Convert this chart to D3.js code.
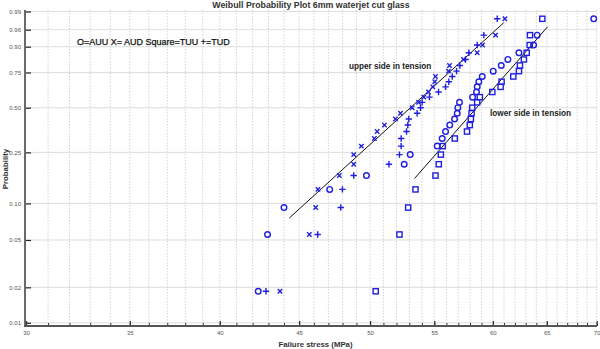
<!DOCTYPE html>
<html><head><meta charset="utf-8">
<script src="https://cdn.jsdelivr.net/npm/d3@7"></script>
<style>
html,body{margin:0;padding:0;background:#fff;}
svg{display:block;font-family:"Liberation Sans",Arial,sans-serif;}
</style></head>
<body><svg id="c" width="600" height="349"></svg>
<script>
// ---- data (stress in MPa, sorted; rank i plotted at p=(i-0.5)/n) ----
const AUU = [42.35,42.94,44.00,47.09,49.73,52.60,53.07,55.24,55.65,55.93,56.28,56.68,56.91,56.96,57.10,58.22,58.56,58.62,58.76,59.06,60.03,60.75,61.35,62.37,63.74,64.08,69.69];
const AUD = [43.74,45.69,46.12,46.28,47.77,48.80,48.80,49.36,50.32,50.53,51.08,51.92,52.31,53.23,53.73,54.15,54.53,54.88,55.04,55.10,56.18,56.26,57.44,58.62,59.09,60.24,61.08];
const TUU = [50.42,52.23,52.91,53.49,55.10,55.37,55.54,55.69,56.70,57.74,57.98,58.07,58.13,58.19,58.62,58.85,59.95,60.69,60.78,61.85,62.37,62.46,62.83,63.09,63.37,63.40,64.57];
const TUD = [42.84,46.26,47.87,47.99,48.80,51.42,52.23,52.36,52.36,52.78,52.88,52.96,53.62,53.89,54.02,54.61,55.35,55.93,56.20,56.49,56.85,57.13,57.61,57.90,58.62,59.20,60.39];
const upperFit = [[44.35,0.076],[60.97,0.975]];
const lowerFit = [[53.41,0.158],[65.08,0.967]];
const probTicks = [0.01,0.02,0.05,0.10,0.25,0.50,0.75,0.90,0.96,0.99];
const probLabels = ["0.01","0.02","0.05","0.10","0.25","0.50","0.75","0.90","0.96","0.99"];
const stressMajor = [30,35,40,45,50,55,60,65,70];
const stressMinor = d3.range(30,71);

(function(){
const svg = d3.select("#c");
const blue = "#1f1fdc";
const wz = p => Math.log(-Math.log(1-p));
const x = d3.scaleLog().domain([30,70]).range([26,596.7]);
const yz = d3.scaleLinear().domain([wz(0.01),wz(0.99)]).range([322.8,11.5]);
const y = p => yz(wz(p));
const pTop = 10, pBottom = 326, pLeft = 25, pRight = 597;

// grid
const g = svg.append("g");
g.selectAll("line.vg").data(stressMinor.filter(v=>v>30)).join("line")
  .attr("x1",d=>x(d)).attr("x2",d=>x(d)).attr("y1",pTop).attr("y2",pBottom)
  .attr("stroke","#c8c8c8").attr("stroke-width",0.8).attr("stroke-dasharray","1.5,1.5");
g.selectAll("line.hg").data(probTicks).join("line")
  .attr("x1",pLeft).attr("x2",pRight).attr("y1",d=>y(d)).attr("y2",d=>y(d))
  .attr("stroke","#d4d4d4").attr("stroke-width",0.8);

// axes
const yAxis = d3.axisLeft(yz).tickValues(probTicks.map(wz))
  .tickFormat((d,i)=>probLabels[i]).tickSize(-6).tickPadding(4).tickSizeOuter(0);
const ya = svg.append("g").attr("transform",`translate(${pLeft},0)`).call(yAxis);
ya.select(".domain").remove();
ya.append("line").attr("x1",0).attr("x2",0).attr("y1",pTop).attr("y2",pBottom)
  .attr("stroke","#6a6a6a").attr("stroke-width",2);
ya.selectAll(".tick line").attr("stroke","#222").attr("stroke-width",1.2);
ya.selectAll(".tick text").attr("font-size",6).attr("fill","#555");

const xMinor = d3.axisBottom(x).tickValues(stressMinor).tickFormat("").tickSize(-3).tickSizeOuter(0);
const xa1 = svg.append("g").attr("transform",`translate(0,${pBottom})`).call(xMinor);
xa1.select(".domain").remove();
xa1.selectAll(".tick line").attr("stroke","#333");
const xMajor = d3.axisBottom(x).tickValues(stressMajor).tickFormat(d3.format("d")).tickSize(-5).tickPadding(5).tickSizeOuter(0);
const xa2 = svg.append("g").attr("transform",`translate(0,${pBottom})`).call(xMajor);
xa2.select(".domain").remove();
xa2.selectAll(".tick line").attr("stroke","#333").attr("stroke-width",1.3);
xa2.selectAll(".tick text").attr("font-size",6).attr("fill","#555");
svg.append("line").attr("x1",pLeft-1).attr("x2",pRight).attr("y1",pBottom).attr("y2",pBottom)
  .attr("stroke","#555").attr("stroke-width",2);

// fit lines
const line = d3.line().x(d=>x(d[0])).y(d=>y(d[1]));
[upperFit,lowerFit].forEach(f=>svg.append("path").attr("d",line(f))
  .attr("fill","none").attr("stroke","#111").attr("stroke-width",1));

// markers
const pr = (i,n) => (i+0.5)/n;
const mk = svg.append("g").attr("fill","none").attr("stroke",blue).attr("stroke-width",1.4);
mk.selectAll("circle").data(AUU).join("circle")
  .attr("cx",d=>x(d)).attr("cy",(d,i)=>y(pr(i,AUU.length))).attr("r",2.8);
mk.selectAll("rect").data(TUU).join("rect")
  .attr("x",d=>x(d)-2.6).attr("y",(d,i)=>y(pr(i,TUU.length))-2.6).attr("width",5.2).attr("height",5.2);
mk.selectAll("path.x").data(AUD).join("path").attr("class","x")
  .attr("d",(d,i)=>{const cx=x(d),cy=y(pr(i,AUD.length)),s=2.2;return `M${cx-s},${cy-s}L${cx+s},${cy+s}M${cx-s},${cy+s}L${cx+s},${cy-s}`;});
mk.selectAll("path.p").data(TUD).join("path").attr("class","p")
  .attr("d",(d,i)=>{const cx=x(d),cy=y(pr(i,TUD.length)),s=3.2;return `M${cx-s},${cy}L${cx+s},${cy}M${cx},${cy-s}L${cx},${cy+s}`;});

// texts
svg.append("text").attr("x",311).attr("y",8).attr("text-anchor","middle")
  .attr("font-size",8.8).attr("font-weight","bold").attr("fill","#333")
  .text("Weibull Probability Plot 6mm waterjet cut glass");
svg.append("text").attr("x",77).attr("y",45).attr("font-size",9).attr("fill","#111")
  .attr("stroke","#111").attr("stroke-width",0.25)
  .text("O=AUU X= AUD Square=TUU +=TUD");
svg.append("text").attr("x",349).attr("y",68.5).attr("font-size",8.2).attr("font-weight","bold").attr("fill","#222")
  .text("upper side in tension");
svg.append("text").attr("x",490).attr("y",116).attr("font-size",8.2).attr("font-weight","bold").attr("fill","#222")
  .text("lower side in tension");
svg.append("text").attr("x",315.5).attr("y",347).attr("text-anchor","middle")
  .attr("font-size",7.8).attr("font-weight","bold").attr("fill","#333").text("Failure stress (MPa)");
svg.append("text").attr("transform","translate(8,169) rotate(-90)").attr("text-anchor","middle")
  .attr("font-size",7.8).attr("font-weight","bold").attr("fill","#333").text("Probability");
})();
</script></body></html>
